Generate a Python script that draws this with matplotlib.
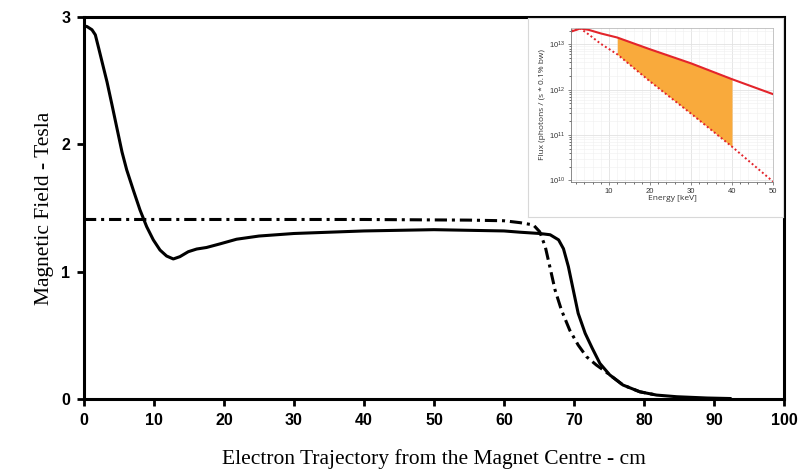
import numpy as np
import matplotlib
matplotlib.use("Agg")
import matplotlib.pyplot as plt
from matplotlib.ticker import LogLocator, NullFormatter

# main chart: field along the electron path
x_solid = [0, 0.43, 1.14, 1.62, 2.1, 2.57, 3.29, 4.0, 4.71, 5.43, 6.1, 7.05, 8.0, 8.95, 9.9,
           10.86, 11.8, 12.76, 13.7, 14.9, 16.1, 17.5, 19.4, 21.8, 25, 30, 40, 50, 60, 62.3,
           65.1, 66.6, 67.8, 68.5, 69.2, 69.9, 70.6, 71.6, 72.6, 73.7, 75.1, 77.0, 79.4,
           81.8, 84.7, 89, 92.3]
y_solid = [2.93, 2.925, 2.90, 2.86, 2.755, 2.65, 2.49, 2.31, 2.126, 1.94, 1.80, 1.64, 1.485,
           1.354, 1.25, 1.17, 1.123, 1.10, 1.118, 1.157, 1.178, 1.19, 1.218, 1.255, 1.28, 1.30,
           1.32, 1.33, 1.32, 1.31, 1.30, 1.29, 1.25, 1.18, 1.04, 0.856, 0.673, 0.516, 0.40,
           0.28, 0.19, 0.11, 0.057, 0.031, 0.018, 0.008, 0.004]

x_dash = [0, 20, 40, 55, 60, 62.3, 64.2, 65.1, 65.9, 66.6, 67.3, 68.2, 69.4, 70.6, 71.8,
          73.2, 74.4, 75.1, 77.0, 79.4, 81.8]
y_dash = [1.41, 1.41, 1.41, 1.405, 1.40, 1.385, 1.367, 1.314, 1.196, 1.027, 0.856, 0.70, 0.54,
          0.424, 0.332, 0.267, 0.22, 0.19, 0.11, 0.057, 0.031]

# inset: flux spectrum (log10 of photons / (s * 0.1% bw))
energy = [0.7, 3, 5, 8, 12, 20, 30, 40, 50]
flux_solid_log = [13.28, 13.35, 13.32, 13.24, 13.15, 12.89, 12.58, 12.23, 11.90]
flux_dot_log = [13.30, 13.35, 13.22, 13.01, 12.78, 12.18, 11.47, 10.74, 9.97]
fill_from, fill_to = 12, 40

plt.rcParams['font.family'] = ['Liberation Sans', 'DejaVu Sans']

fig = plt.figure(figsize=(8.03, 4.70), dpi=100)
ax = fig.add_axes([0.1046, 0.151, 0.8717, 0.8128])

ax.plot(x_solid, y_solid, color='black', lw=2.2, solid_joinstyle='round')
ax.plot(x_dash, y_dash, color='black', lw=2.2, linestyle=(0, (4, 1.6, 1, 1.6)))

ax.set_xlim(0, 100)
ax.set_ylim(0, 3)
ax.set_xticks(range(0, 101, 10))
ax.set_yticks([0, 1, 2, 3])
for s in ax.spines.values():
    s.set_linewidth(2.2)
ax.tick_params(width=2, length=5, labelsize=11.5, pad=5)
for t in ax.get_xticklabels() + ax.get_yticklabels():
    t.set_fontweight('bold')
ax.set_xlabel("Electron Trajectory from the Magnet Centre - cm", family='Liberation Serif',
              fontsize=15.5, labelpad=15)
ax.set_ylabel("Magnetic Field - Tesla", family='Liberation Serif', fontsize=15.5, labelpad=5)

# white box behind the inset
box = fig.add_axes([0.6575, 0.538, 0.3175, 0.4237])
box.set_xticks([])
box.set_yticks([])
for s in box.spines.values():
    s.set_color('#d8d8d8')
    s.set_linewidth(0.8)

ins = fig.add_axes([0.711, 0.6128, 0.2516, 0.3276])
ins.set_yscale('log')
e = np.array(energy)
fs = 10 ** np.array(flux_solid_log)
fd = 10 ** np.array(flux_dot_log)
ins.fill_between(e, fd, fs, where=(e >= fill_from) & (e <= fill_to), color='#f9aa3c', lw=0)
ins.plot(energy, fs, color='#e3242b', lw=1.5)
ins.plot(energy, fd, color='#e3242b', lw=1.4, linestyle=(0, (1, 1.3)))
ins.set_xlim(0.7, 50)
ins.set_ylim(10 ** 9.96, 10 ** 13.36)
ins.set_xticks([10, 20, 30, 40, 50])
ins.set_xticks(range(2, 50, 2), minor=True)
ins.yaxis.set_major_locator(LogLocator(base=10, numticks=10))
ins.yaxis.set_minor_locator(LogLocator(base=10, subs=np.arange(2, 10), numticks=10))
ins.yaxis.set_minor_formatter(NullFormatter())
ins.grid(True, which='major', color='#e2e2e2', lw=0.6)
ins.grid(True, which='minor', color='#efefef', lw=0.4)
ins.set_axisbelow(True)
for name, s in ins.spines.items():
    s.set_color('#bbbbbb' if name in ('top', 'right') else '#777777')
    s.set_linewidth(0.6)
ins.tick_params(labelsize=5.5, length=2, width=0.5, pad=2, colors='#555555', labelcolor='#333333')
ins.tick_params(which='minor', length=1.2, width=0.4)
ins.set_xlabel("Energy [keV]", family='Open Sans', fontsize=6, labelpad=0.5, color='#333333')
ins.set_ylabel("Flux (photons / (s * 0.1% bw)", family='Open Sans', fontsize=6, labelpad=2,
               color='#333333')

fig.savefig("out.png", dpi=100)
